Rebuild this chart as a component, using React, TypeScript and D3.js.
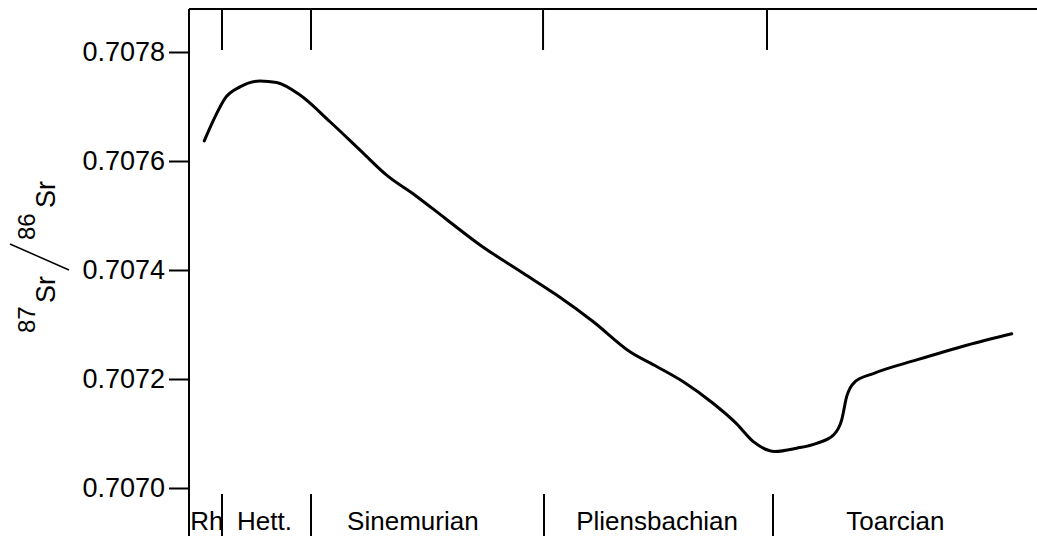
import * as d3 from 'd3';
import React, { useRef, useEffect } from 'react';

// relative time position (0 = left frame, 100 = right edge) and 87Sr/86Sr
const timePos = [
  1.8, 3.07, 4.25, 6.01, 8.37, 10.34, 13.09, 16.63, 20.17, 23.31, 26.85, 30.19,
  34.32, 39.42, 43.36, 47.68, 52.0, 55.15, 58.29, 61.83, 64.5, 66.55, 69.1,
  71.66, 74.02, 75.98, 76.97, 77.56, 78.54, 80.7, 85.81, 91.71, 97.02,
];
const srRatio = [
  0.707637, 0.707681, 0.707715, 0.707736, 0.707747, 0.707744, 0.707721, 0.707672,
  0.70762, 0.707574, 0.707535, 0.707495, 0.707446, 0.707394, 0.707354, 0.707305,
  0.70725, 0.707223, 0.707195, 0.707155, 0.707119, 0.707085, 0.707067, 0.707073,
  0.707082, 0.707097, 0.707125, 0.707168, 0.707195, 0.70721, 0.707235, 0.707262,
  0.707283,
];

const yTicks = [0.707, 0.7072, 0.7074, 0.7076, 0.7078];
const topTicks = [3.89, 14.39, 41.75, 68.16];
const stageBounds = [3.89, 14.39, 41.86, 68.87];
const stageNames = ['Rh', 'Hett.', 'Sinemurian', 'Pliensbachian', 'Toarcian'];
const stageLabelPos = [0.15, 8.9, 26.4, 55.2, 83.3];
const stageAnchor = ['start', 'middle', 'middle', 'middle', 'middle'];

const W = 1037;
const H = 536;

const App = () => {
  const ref = useRef<SVGSVGElement>(null);

  useEffect(() => {
    draw();
  }, []);

  const draw = () => {
    const svg = d3.select(ref.current);
    svg.selectAll('*').remove();

    const font = '"Liberation Sans", Arial, sans-serif';
    const left = 189;
    const top = 9;

    const xScale = d3.scaleLinear().domain([0, 100]).range([left, W]);
    const yScale = d3.scaleLinear().domain([0.707, 0.7078]).range([488, 52]);

    // frame: top line and left axis
    svg.append('line')
      .attr('x1', left).attr('x2', W)
      .attr('y1', top).attr('y2', top)
      .attr('stroke', '#000').attr('stroke-width', 2);

    const yAxis = d3.axisLeft(yScale)
      .tickValues(yTicks)
      .tickSize(20)
      .tickPadding(4)
      .tickFormat(d => d3.format('.4f')(+d));
    const gy = svg.append('g')
      .attr('transform', `translate(${left}, 0)`)
      .call(yAxis);
    gy.select('.domain').remove();
    gy.selectAll('line').attr('stroke', '#000').attr('stroke-width', 2);
    gy.selectAll('text')
      .attr('fill', '#000')
      .style('font-family', font)
      .style('font-size', '27px');

    svg.append('line')
      .attr('x1', left).attr('x2', left)
      .attr('y1', top).attr('y2', H)
      .attr('stroke', '#000').attr('stroke-width', 2);

    // top ticks
    svg.selectAll('.top-tick')
      .data(topTicks)
      .enter().append('line')
      .attr('class', 'top-tick')
      .attr('x1', d => xScale(d)).attr('x2', d => xScale(d))
      .attr('y1', top).attr('y2', 50)
      .attr('stroke', '#000').attr('stroke-width', 2);

    // stage dividers at bottom
    svg.selectAll('.stage-div')
      .data(stageBounds)
      .enter().append('line')
      .attr('class', 'stage-div')
      .attr('x1', d => xScale(d)).attr('x2', d => xScale(d))
      .attr('y1', 494).attr('y2', H)
      .attr('stroke', '#000').attr('stroke-width', 2);

    svg.selectAll('.stage-label')
      .data(stageNames)
      .enter().append('text')
      .attr('class', 'stage-label')
      .attr('x', (d, i) => xScale(stageLabelPos[i]))
      .attr('y', 530)
      .attr('text-anchor', (d, i) => stageAnchor[i])
      .style('font-family', font)
      .style('font-size', '26px')
      .text(d => d);

    // curve
    const line = d3.line<number>()
      .x((d, i) => xScale(timePos[i]))
      .y(d => yScale(d))
      .curve(d3.curveMonotoneX);
    svg.append('path')
      .datum(srRatio)
      .attr('d', line)
      .attr('fill', 'none')
      .attr('stroke', '#000')
      .attr('stroke-width', 3)
      .attr('stroke-linejoin', 'round')
      .attr('stroke-linecap', 'round');

    // y title: 87Sr / 86Sr
    const gt = svg.append('g')
      .attr('transform', 'translate(55, 336) rotate(-90)')
      .style('font-family', font);
    gt.append('text').attr('x', 3).attr('y', -20).style('font-size', '24px').text('87');
    gt.append('text').attr('x', 33).attr('y', 0).style('font-size', '27px').text('Sr');
    gt.append('line')
      .attr('x1', 66).attr('y1', 14)
      .attr('x2', 92).attr('y2', -45)
      .attr('stroke', '#000').attr('stroke-width', 1.5);
    gt.append('text').attr('x', 96).attr('y', -20).style('font-size', '24px').text('86');
    gt.append('text').attr('x', 128).attr('y', 0).style('font-size', '27px').text('Sr');
  };

  return (
    <div style={{ position: 'absolute', left: 0, top: 0 }}>
      <svg ref={ref} width={W} height={H} style={{ display: 'block', background: '#fff' }}>
      </svg>
    </div>
  );
};

export default App;
